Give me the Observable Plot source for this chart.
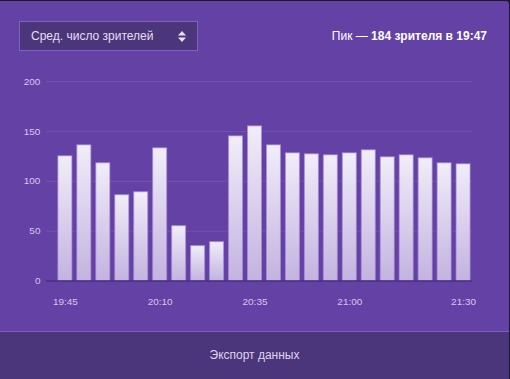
<!DOCTYPE html>
<html>
<head>
<meta charset="utf-8">
<script src="https://cdn.jsdelivr.net/npm/d3@7"></script>
<script src="https://cdn.jsdelivr.net/npm/@observablehq/plot@0.6"></script>
<style>
  html, body { margin: 0; padding: 0; background: #1c1a22; width: 510px; height: 379px; overflow: hidden; }
  #card { position: absolute; left: 0; top: 1px; width: 509px; height: 378px; background: #6441a5;
          border-top-right-radius: 3px; overflow: hidden; font-family: "Liberation Sans", Arial, sans-serif; }
  #select { position: absolute; left: 19px; top: 20px; width: 179px; height: 30px; box-sizing: border-box;
            border: 1px solid #7e60c2; background: #4b367c; color: #e6dff3; font-size: 12px;
            line-height: 28px; padding-left: 11px; }
  #select svg { position: absolute; left: 157px; top: 8px; }
  #peak { position: absolute; right: 22px; top: 28px; font-size: 12px; line-height: 14px; color: #ffffff; }
  #peak b { font-weight: bold; }
  #chart { position: absolute; left: 0; top: 59px; }
  #footer { position: absolute; left: 0; top: 330px; width: 509px; height: 48px; box-sizing: border-box;
            background: #4b367c; border-top: 1px solid #7d5ec0; color: #ddd4ee; font-size: 12px;
            text-align: center; line-height: 47px; }
</style>
</head>
<body>
<div id="card">
  <div id="select">Сред. число зрителей
    <svg width="10" height="13" viewBox="0 0 10 13"><polygon points="1,5.5 5,1 9,5.5" fill="#e6dff3"/><polygon points="1,7.5 5,12 9,7.5" fill="#e6dff3"/></svg>
  </div>
  <div id="peak">Пик — <b>184 зрителя в 19:47</b></div>
  <div id="chart"></div>
  <div id="footer">Экспорт данных</div>
</div>
<script>
const times = ["19:45","19:50","19:55","20:00","20:05","20:10","20:15","20:20","20:25","20:30","20:35",
               "20:40","20:45","20:50","20:55","21:00","21:05","21:10","21:15","21:20","21:25","21:30"];
const viewers = [125,136,118,86,89,133,55,35,39,145,155,136,128,127,126,128,131,124,126,123,118,117];
const xTicks = ["19:45","20:10","20:35","21:00","21:30"];
const yTicks = [0,50,100,150,200];
const gridValues = [50,100,150,200];

const data = times.map((t, i) => ({time: t, viewers: viewers[i]}));

const svg = Plot.plot({
  width: 510,
  height: 260,
  marginTop: 21,
  marginBottom: 39,
  marginLeft: 46,
  marginRight: 37,
  style: {background: "transparent", color: "#d4c8ee", fontFamily: "Liberation Sans, Arial, sans-serif", fontSize: "10px"},
  x: {type: "band", domain: times, paddingInner: 5/19, paddingOuter: 2.5/19, insetLeft: 9,
      ticks: xTicks, tickSize: 0, tickPadding: 17, label: null},
  y: {domain: [0, 200], ticks: yTicks, tickSize: 0, tickPadding: 6, label: null},
  marks: [
    Plot.ruleY(gridValues, {stroke: "#ffffff", strokeOpacity: 0.1}),
    Plot.barY(data, {x: "time", y: "viewers", fill: "url(#barGrad)", stroke: "#a98fd8", strokeOpacity: 0.7}),
    Plot.ruleY([0], {stroke: "#47307c", strokeWidth: 1.5})
  ]
});

const defs = d3.select(svg).insert("defs", ":first-child");
const grad = defs.append("linearGradient").attr("id", "barGrad").attr("x1", 0).attr("y1", 0).attr("x2", 0).attr("y2", 1);
grad.append("stop").attr("offset", "0%").attr("stop-color", "#f1edf9");
grad.append("stop").attr("offset", "100%").attr("stop-color", "#c3b3e0");

document.getElementById("chart").appendChild(svg);
</script>
</body>
</html>
